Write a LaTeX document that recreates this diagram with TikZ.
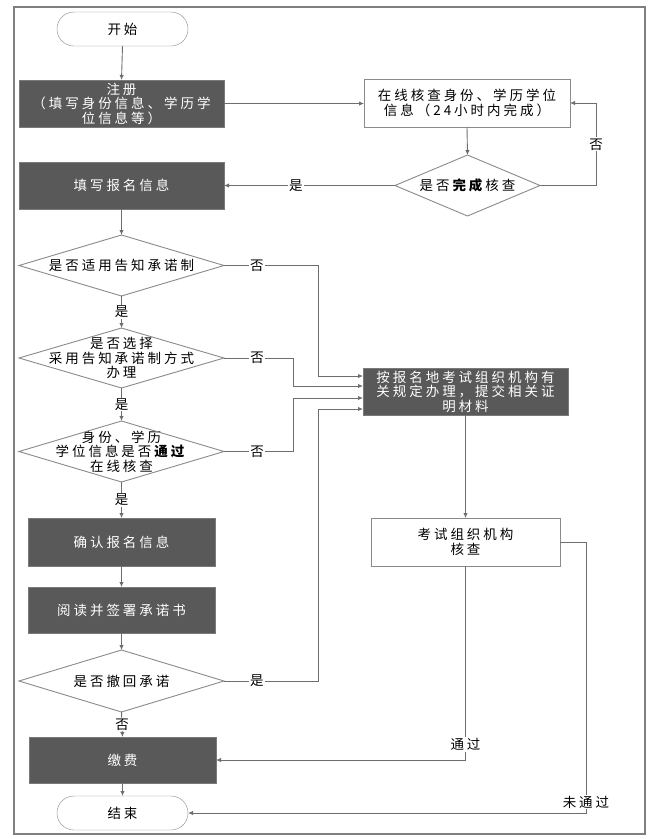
\documentclass[tikz,border=0pt]{standalone}
\usepackage{fontspec}
\setmainfont{Noto Sans CJK SC}[LetterSpace=22]
\usetikzlibrary{arrows.meta}
\definecolor{boxdark}{HTML}{595959}
\definecolor{edge}{HTML}{8A8A8A}
\definecolor{wire}{HTML}{6E6E6E}
\definecolor{framec}{HTML}{7F7F7F}
\begin{document}
\begin{tikzpicture}[x=1pt,y=-1pt,
  font=\fontsize{13.5}{14.5}\selectfont,
  darkbox/.style={rectangle, fill=boxdark, draw=boxdark!80!white, text=white, inner sep=0pt, outer sep=0pt, align=center},
  whitebox/.style={rectangle, draw=edge, fill=white, text=black, inner sep=0pt, outer sep=0pt, align=center},
  term/.style={rectangle, rounded corners=17pt, draw=edge, fill=white, minimum width=131pt, minimum height=34pt, inner sep=0pt, outer sep=0pt},
  dia/.style={rectangle, inner sep=0pt, outer sep=0pt, align=center},
  diaedge/.style={draw=edge, line width=0.9pt},
  wireline/.style={draw=wire, line width=0.9pt},
  arr/.style={wireline, -{Latex[length=5pt,width=4.5pt]}},
  lbl/.style={fill=white, inner sep=1pt, text=black}]
\useasboundingbox (0,0) rectangle (664,839);
\draw[framec, line width=2pt] (14,7) rectangle (645,834);

% nodes
\node[term] (start) at (122.5,29) {开始};
\node[darkbox, minimum width=205pt, minimum height=47pt] (reg) at (121.5,103.5) {注册\\（填写身份信息、学历学\\位信息等）};
\node[whitebox, minimum width=206pt, minimum height=48pt] (chk) at (467,103) {在线核查身份、学历学位\\信息（24小时内完成）};
\node[dia, minimum width=145pt, minimum height=61pt] (dchk) at (467.5,185.5) {是否\textbf{完成}核查};
\node[darkbox, minimum width=205pt, minimum height=47pt] (fill) at (121.5,185.5) {填写报名信息};
\node[dia, minimum width=205pt, minimum height=61pt] (d1) at (121.5,265.5) {是否适用告知承诺制};
\node[dia, minimum width=205pt, minimum height=60pt] (d2) at (121.5,358) {是否选择\\采用告知承诺制方式\\办理};
\node[dia, minimum width=205pt, minimum height=61pt] (d3) at (121.5,451.5) {身份、学历\\学位信息是否\textbf{通过}\\在线核查};
\node[darkbox, minimum width=205pt, minimum height=47pt] (tgt) at (465.5,391.5) {按报名地考试组织机构有\\关规定办理，提交相关证\\明材料};
\node[darkbox, minimum width=187pt, minimum height=48pt] (confirm) at (121.5,542) {确认报名信息};
\node[darkbox, minimum width=187pt, minimum height=46pt] (read) at (121.5,610) {阅读并签署承诺书};
\node[dia, minimum width=205pt, minimum height=62pt] (d4) at (121.5,681) {是否撤回承诺};
\node[darkbox, minimum width=187pt, minimum height=46pt] (pay) at (122.5,760) {缴费};
\node[term] (end) at (122.5,813) {结束};
\node[whitebox, minimum width=189pt, minimum height=48pt] (exam) at (465.5,542) {考试组织机构\\核查};

% diamond outlines
\foreach \n in {dchk,d1,d2,d3,d4}
  \draw[diaedge] (\n.north) -- (\n.east) -- (\n.south) -- (\n.west) -- cycle;

% connectors
\draw[arr] (start.south) -- (reg.north);
\draw[arr] (reg.east) -- (reg.east -| chk.west);
\draw[arr] (chk.south) -- (dchk.north);
\draw[arr] (dchk.east) -- ++(56,0) |- node[lbl,pos=0.25]{否} (chk.east);
\draw[arr] (dchk.west) -- node[lbl,pos=0.58]{是} (fill.east);
\draw[arr] (fill.south) -- (d1.north);
\draw[arr] (d1.east) -- node[lbl,pos=0.35]{否} ++(94,0) |- ([yshift=15.5pt]tgt.west);
\draw[arr] (d1.south) -- node[lbl]{是} (d2.north);
\draw[arr] (d2.east) -- node[lbl,pos=0.48]{否} ++(69,0) |- ([yshift=5.5pt]tgt.west);
\draw[arr] (d2.south) -- node[lbl]{是} (d3.north);
\draw[arr] (d3.east) -- node[lbl,pos=0.48]{否} ++(69,0) |- ([yshift=-6.5pt]tgt.west);
\draw[arr] (d3.south) -- node[lbl]{是} (confirm.north);
\draw[arr] (confirm.south) -- (read.north);
\draw[arr] (read.south) -- (d4.north);
\draw[arr] (d4.east) -- node[lbl,pos=0.35]{是} ++(94,0) |- ([yshift=-17.5pt]tgt.west);
\draw[arr] (d4.south) -- node[lbl]{否} (pay.north);
\draw[arr] (pay.south) -- (end.north);
\draw[arr] (tgt.south) -- (exam.north);
\draw[arr] (exam.south) |- node[lbl,pos=0.46]{通过} (pay.east);
\draw[arr] (exam.east) -- ++(26,0) |- node[lbl,pos=0.48]{未通过} (end.east);
\end{tikzpicture}
\end{document}
